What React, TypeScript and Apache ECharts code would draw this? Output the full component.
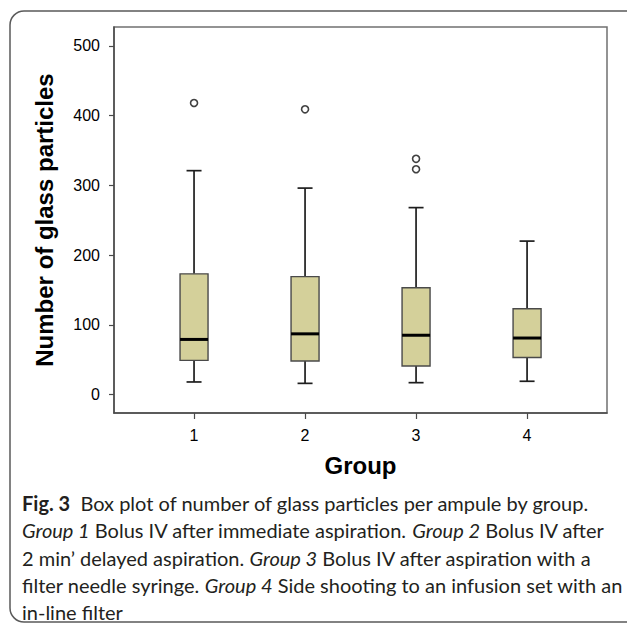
import React, { useEffect, useRef } from "react";
import * as echarts from "echarts";

// ---- data ----
const groups = [1, 2, 3, 4];
const whiskerLow = [18, 16, 17, 19];
const quartile1 = [49, 48, 41, 53];
const medians = [79, 87, 85, 81];
const quartile3 = [173, 169, 153, 123];
const whiskerHigh = [321, 296, 268, 220];
const outlierGroups = [1, 2, 3, 3];
const outlierValues = [418, 409, 338, 323];
const yTicks = [0, 100, 200, 300, 400, 500];
const xTicks = [1, 2, 3, 4];

const captionLines = [
  "{b|Fig. 3}  Box plot of number of glass particles per ampule by group.",
  "{i|Group 1} Bolus IV after immediate aspiration. {i|Group 2} Bolus IV after",
  "2 min’ delayed aspiration. {i|Group 3} Bolus IV after aspiration with a",
  "filter needle syringe. {i|Group 4} Side shooting to an infusion set with an",
  "in-line filter",
];

export default function App() {
  const ref = useRef<HTMLDivElement>(null);
  useEffect(() => {
    document.body.style.margin = "0";
    if (!ref.current) return;
    const chart = echarts.init(ref.current, null, { renderer: "svg" });
    const boxData = groups.map((g, i) => [
      g,
      whiskerLow[i],
      quartile1[i],
      medians[i],
      quartile3[i],
      whiskerHigh[i],
    ]);
    const outlierData = outlierGroups.map((g, i) => [g, outlierValues[i]]);
    const axisFont = "'Liberation Sans', Arial, sans-serif";
    const capFont = "Lato, 'Open Sans', sans-serif";
    const capSize = 20;
    const capLH = 27.4;

    chart.setOption({
      animation: false,
      backgroundColor: "#ffffff",
      grid: {
        left: 114,
        right: 20,
        top: 27,
        bottom: 212,
        show: true,
        borderColor: "#707070",
        borderWidth: 1.5,
      },
      xAxis: {
        type: "value",
        min: 0.279,
        max: 4.72,
        name: "Group",
        nameLocation: "middle",
        nameGap: 40,
        nameTextStyle: {
          fontFamily: axisFont,
          fontWeight: "bold",
          fontSize: 24,
          color: "#000",
        },
        axisLine: { show: true, onZero: false, lineStyle: { color: "#4a4a4a", width: 1.5 } },
        axisTick: {
          show: true,
          customValues: xTicks,
          length: 6,
          lineStyle: { color: "#4a4a4a", width: 1.2 },
        },
        axisLabel: {
          customValues: xTicks,
          margin: 14,
          fontFamily: axisFont,
          fontSize: 16,
          color: "#000",
        },
        splitLine: { show: false },
      },
      yAxis: {
        type: "value",
        min: -26.5,
        max: 527,
        name: "Number of glass particles",
        nameLocation: "middle",
        nameGap: 58,
        nameTextStyle: {
          fontFamily: axisFont,
          fontWeight: "bold",
          fontSize: 24,
          color: "#000",
        },
        axisLine: { show: true, onZero: false, lineStyle: { color: "#4a4a4a", width: 1.5 } },
        axisTick: {
          show: true,
          customValues: yTicks,
          length: 5,
          lineStyle: { color: "#4a4a4a", width: 1.2 },
        },
        axisLabel: {
          customValues: yTicks,
          margin: 14,
          fontFamily: axisFont,
          fontSize: 16,
          color: "#000",
        },
        splitLine: { show: false },
      },
      series: [
        {
          type: "custom",
          data: boxData,
          encode: { x: 0, y: [1, 2, 3, 4, 5] },
          renderItem: (params: any, api: any) => {
            const gx = api.value(0);
            const lo = api.coord([gx, api.value(1)]);
            const a = api.coord([gx, api.value(2)]);
            const m = api.coord([gx, api.value(3)]);
            const b = api.coord([gx, api.value(4)]);
            const hi = api.coord([gx, api.value(5)]);
            const cx = lo[0];
            const hw = 14;
            const cw = 7.5;
            const ws = { stroke: "#1e1e1e", lineWidth: 1.7 };
            return {
              type: "group",
              children: [
                { type: "line", shape: { x1: cx, y1: hi[1], x2: cx, y2: b[1] }, style: ws },
                { type: "line", shape: { x1: cx, y1: a[1], x2: cx, y2: lo[1] }, style: ws },
                { type: "line", shape: { x1: cx - cw, y1: hi[1], x2: cx + cw, y2: hi[1] }, style: ws },
                { type: "line", shape: { x1: cx - cw, y1: lo[1], x2: cx + cw, y2: lo[1] }, style: ws },
                {
                  type: "rect",
                  shape: { x: cx - hw, y: b[1], width: hw * 2, height: a[1] - b[1] },
                  style: { fill: "#d4d09a", stroke: "#4a4a4a", lineWidth: 1.4 },
                },
                {
                  type: "line",
                  shape: { x1: cx - hw, y1: m[1], x2: cx + hw, y2: m[1] },
                  style: { stroke: "#000", lineWidth: 3 },
                },
              ],
            };
          },
        },
        {
          type: "scatter",
          data: outlierData,
          symbol: "circle",
          symbolSize: 7,
          itemStyle: { color: "#ffffff", borderColor: "#111", borderWidth: 1.6 },
        },
      ],
      graphic: [
        {
          type: "rect",
          shape: { x: 10, y: 11, width: 640, height: 611, r: 14 },
          style: { fill: "none", stroke: "#5a5a5a", lineWidth: 1.5 },
          silent: true,
        },
        {
          type: "text",
          x: 22,
          y: 489,
          style: {
            text: captionLines.join("\n"),
            fontFamily: capFont,
            fontSize: capSize,
            lineHeight: capLH,
            fill: "#231f20",
            verticalAlign: "top",
            rich: {
              b: { fontWeight: "bold", fontFamily: capFont, fontSize: capSize, lineHeight: capLH, fill: "#231f20" },
              i: { fontStyle: "italic", fontFamily: capFont, fontSize: capSize, lineHeight: capLH, fill: "#231f20" },
            },
          },
        },
      ],
    });
    return () => chart.dispose();
  }, []);
  return <div ref={ref} style={{ width: 627, height: 625 }} />;
}
